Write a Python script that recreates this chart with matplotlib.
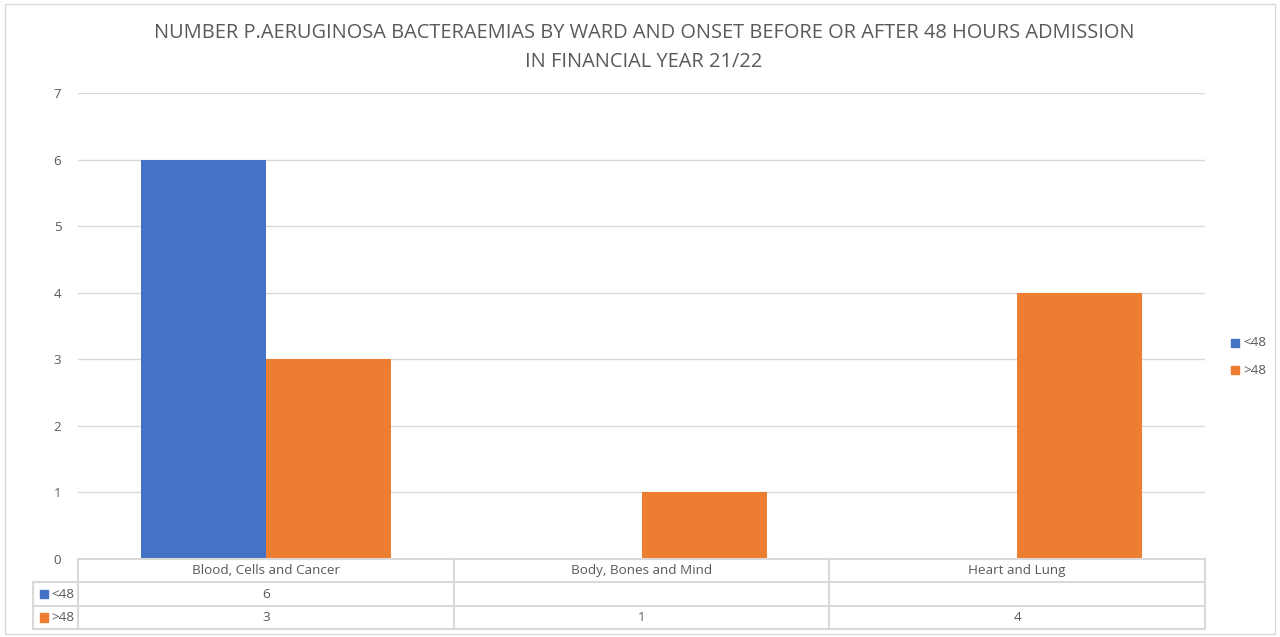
import numpy as np
import matplotlib
matplotlib.use('Agg')
import matplotlib.pyplot as plt
from matplotlib.patches import Rectangle

# Dades
categories = ['Blood, Cells and Cancer', 'Body, Bones and Mind', 'Heart and Lung']
series     = ['<48', '>48']
menys48    = [6, None, None]
mes48      = [3, 1, 4]
titol      = 'NUMBER P.AERUGINOSA BACTERAEMIAS BY WARD AND ONSET BEFORE OR AFTER 48 HOURS ADMISSION\nIN FINANCIAL YEAR 21/22'

BLAU   = '#4472C4'
TARONJA= '#ED7D31'
GRIS   = '#595959'
LINIA  = '#D9D9D9'
FONT   = 'Open Sans'

W, H = 1280, 637
fig = plt.figure(figsize=(W/100, H/100), dpi=100)
plt.rcParams['font.family'] = [FONT, 'DejaVu Sans']

def fx(px): return px/W
def fy(py): return 1 - py/H

# Marc del grafic
fig.patches.append(Rectangle((fx(5), fy(634)), fx(1270), (634-4)/H,
                             transform=fig.transFigure, fill=False, edgecolor=LINIA, lw=1))

# Eixos principals
ax = fig.add_axes((fx(78), fy(559), fx(1205-78), (559-93)/H))
x = np.arange(len(categories))
w = 1/3
v1 = [np.nan if v is None else v for v in menys48]
v2 = [np.nan if v is None else v for v in mes48]
ax.bar(x - w/2, v1, w, color=BLAU, zorder=3)
ax.bar(x + w/2, v2, w, color=TARONJA, zorder=3)
ax.set_xlim(-0.5, len(categories)-0.5)
ax.set_ylim(0, 7)
ax.set_yticks(range(0, 8))
ax.yaxis.grid(True, color=LINIA, lw=1, zorder=0)
ax.set_xticks([])
for s in ax.spines.values(): s.set_visible(False)
ax.tick_params(axis='y', length=0, pad=12, labelsize=9.5, labelcolor=GRIS)

fig.text(0.503, fy(47.5), titol, ha='center', va='center', fontsize=14.4, color=GRIS, linespacing=1.6)

# Taula de dades
tx = fig.add_axes((fx(78), fy(629), fx(1205-78), (629-559)/H))
tx.set_xlim(-0.5, len(categories)-0.5)
tx.set_ylim(3, 0)
tx.axis('off')
xl = -0.5 - 45/375.7
kw = dict(color=LINIA, lw=1.5, clip_on=False)
# linies horitzontals
tx.plot([-0.5, 2.5], [0, 0], **kw)
for r in (1, 2, 3):
    tx.plot([xl, 2.5], [r, r], **kw)
# linies verticals
tx.plot([xl, xl], [1, 3], **kw)
for c in range(len(categories)+1):
    tx.plot([c-0.5, c-0.5], [0, 3], **kw)
for i, cat in enumerate(categories):
    tx.text(i, 0.5, cat, ha='center', va='center', fontsize=9.7, color=GRIS)
for r, (nom, vals, col) in enumerate([(series[0], menys48, BLAU), (series[1], mes48, TARONJA)]):
    tx.add_patch(Rectangle((xl + 0.018, r + 1.32), 0.022, 0.36, color=col, clip_on=False))
    tx.text(xl + 0.05, r + 1.5, nom, ha='left', va='center', fontsize=9.7, color=GRIS)
    for i, v in enumerate(vals):
        if v is not None:
            tx.text(i, r + 1.5, str(v), ha='center', va='center', fontsize=9.7, color=GRIS)

# Llegenda
for k, (nom, col) in enumerate(zip(series, [BLAU, TARONJA])):
    yy = 343 + 27*k
    fig.patches.append(Rectangle((fx(1231), fy(yy+4)), fx(8), 8/H, color=col, transform=fig.transFigure))
    fig.text(fx(1243), fy(yy), nom, ha='left', va='center', fontsize=9.7, color=GRIS)

plt.savefig('out.png', dpi=100)
plt.close()
